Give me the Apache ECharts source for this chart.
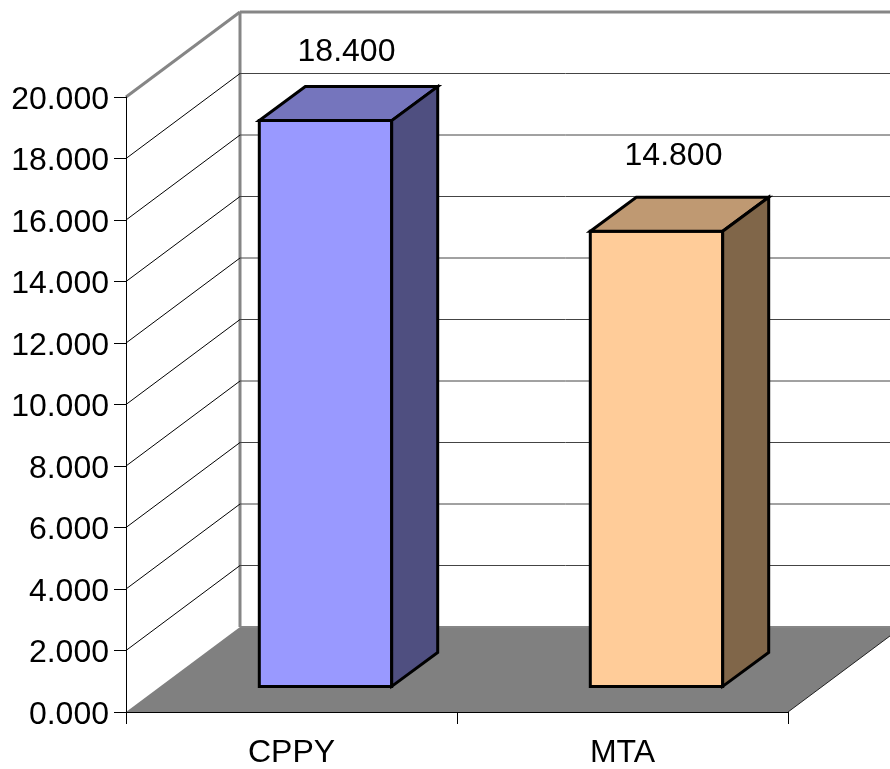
<!DOCTYPE html>
<html>
<head>
<meta charset="utf-8">
<title>CPPY / MTA</title>
<script src="https://cdn.jsdelivr.net/npm/echarts@6/dist/echarts.min.js"></script>
<style>
  html, body { margin: 0; padding: 0; background: #fff; }
  #chart { width: 890px; height: 769px; }
</style>
</head>
<body>
<div id="chart"></div>
<script>
// Chart values
const categories = ['CPPY', 'MTA'];
const seriesValues = [18.4, 14.8];
const gridValues = [2, 4, 6, 8, 10, 12, 14, 16, 18];
const axisMax = 20;
const axisStep = 2;

// One colour triple per bar: front, top and side faces
const faceColors = [
  { front: '#9999FF', top: '#7575BD', side: '#4F4F80' },
  { front: '#FFCC99', top: '#BF9972', side: '#806649' }
];

// Oblique projection used for the box look, in pixels
const WALL_DX = 114, WALL_DY = 85;    // axis plane to back wall
const BAR_IN_DX = 34, BAR_IN_DY = 25.6; // axis plane to bar front
const BAR_DX = 46, BAR_DY = 34;       // bar depth
const BAR_RATIO = 0.4;                // bar width over category width
const LABEL_RISE = [68, 75];          // value label centre above the bar front top
const LABEL_SHIFT = [21, 17];         // value label centre right of the bar front centre

const FONT = '"Liberation Sans", Arial, sans-serif';
const FONT_SIZE = 32;
const WALL_GREY = '#868686';

const floorRenderer = (params, api) => {
  const cs = params.coordSys;
  const y0 = api.coord([0, 0])[1];
  const l = cs.x, r = cs.x + cs.width;
  return {
    type: 'group',
    children: [
      { type: 'polygon',
        shape: { points: [[l, y0], [r, y0], [r + WALL_DX, y0 - WALL_DY], [l + WALL_DX, y0 - WALL_DY]] },
        style: { fill: '#808080', stroke: null } },
      { type: 'line',
        shape: { x1: l + WALL_DX, y1: y0 - WALL_DY, x2: r + WALL_DX, y2: y0 - WALL_DY },
        style: { stroke: WALL_GREY, lineWidth: 2 } },
      { type: 'line',
        shape: { x1: r, y1: y0, x2: r + WALL_DX, y2: y0 - WALL_DY },
        style: { stroke: '#222', lineWidth: 1 } },
      // Wall frame: top edges and back corner
      { type: 'line',
        shape: { x1: l, y1: cs.y, x2: l + WALL_DX, y2: cs.y - WALL_DY },
        style: { stroke: WALL_GREY, lineWidth: 3 } },
      { type: 'line',
        shape: { x1: l + WALL_DX, y1: cs.y - WALL_DY, x2: 900, y2: cs.y - WALL_DY },
        style: { stroke: WALL_GREY, lineWidth: 3 } },
      { type: 'line',
        shape: { x1: l + WALL_DX, y1: cs.y - WALL_DY, x2: l + WALL_DX, y2: y0 - WALL_DY },
        style: { stroke: WALL_GREY, lineWidth: 3 } }
    ]
  };
};

const gridRenderer = (params, api) => {
  const cs = params.coordSys;
  const y = api.coord([0, api.value(1)])[1];
  const l = cs.x, r = cs.x + cs.width;
  return {
    type: 'group',
    children: [
      { type: 'line',
        shape: { x1: l, y1: y, x2: l + WALL_DX, y2: y - WALL_DY },
        style: { stroke: '#000', lineWidth: 1 } },
      { type: 'line',
        shape: { x1: l + WALL_DX, y1: y - WALL_DY, x2: r + WALL_DX, y2: y - WALL_DY },
        style: { stroke: '#444', lineWidth: 1 } }
    ]
  };
};

const barRenderer = (params, api) => {
  const i = api.value(0), v = api.value(1);
  const c = faceColors[i];
  const [cx, yTop] = api.coord([i, v]);
  const [, yBase] = api.coord([i, 0]);
  const half = api.size([1, 0])[0] * BAR_RATIO / 2;
  const x0 = cx + BAR_IN_DX - half, x1 = cx + BAR_IN_DX + half;
  const t = yTop - BAR_IN_DY, b = yBase - BAR_IN_DY;
  const edge = { stroke: '#000', lineWidth: 3, lineJoin: 'miter' };
  return {
    type: 'group',
    children: [
      { type: 'polygon', shape: { points: [[x0, t], [x1, t], [x1, b], [x0, b]] },
        style: Object.assign({ fill: c.front }, edge) },
      { type: 'polygon', shape: { points: [[x0, t], [x1, t], [x1 + BAR_DX, t - BAR_DY], [x0 + BAR_DX, t - BAR_DY]] },
        style: Object.assign({ fill: c.top }, edge) },
      { type: 'polygon', shape: { points: [[x1, t], [x1 + BAR_DX, t - BAR_DY], [x1 + BAR_DX, b - BAR_DY], [x1, b]] },
        style: Object.assign({ fill: c.side }, edge) },
      { type: 'text',
        style: {
          x: cx + BAR_IN_DX + LABEL_SHIFT[i],
          y: t - LABEL_RISE[i],
          text: v.toFixed(3),
          fill: '#000',
          font: FONT_SIZE + 'px ' + FONT,
          align: 'center',
          verticalAlign: 'middle'
        } }
    ]
  };
};

const chart = echarts.init(document.getElementById('chart'), null, { renderer: 'canvas' });
chart.setOption({
  animation: false,
  backgroundColor: '#ffffff',
  grid: { left: 126, top: 97, width: 662, height: 616.5, containLabel: false },
  xAxis: {
    type: 'category',
    data: categories,
    z: 10,
    axisLine: { lineStyle: { color: '#000', width: 1 } },
    axisTick: { show: true, length: 12, lineStyle: { color: '#000', width: 1 } },
    axisLabel: { color: '#000', fontFamily: FONT, fontSize: FONT_SIZE, margin: 25 },
    splitLine: { show: false }
  },
  yAxis: {
    type: 'value',
    min: 0,
    max: axisMax,
    interval: axisStep,
    z: 10,
    axisLine: { show: true, lineStyle: { color: '#000', width: 1 } },
    axisTick: { show: true, length: 12, lineStyle: { color: '#000', width: 1 } },
    axisLabel: {
      color: '#000', fontFamily: FONT, fontSize: FONT_SIZE, margin: 17,
      formatter: (val) => '{v|' + val.toFixed(3) + '}',
      rich: { v: { color: '#000', fontFamily: FONT, fontSize: FONT_SIZE, padding: [6, 0, 0, 0] } }
    },
    splitLine: { show: false }
  },
  series: [
    { type: 'custom', z: 1, silent: true, renderItem: floorRenderer,
      clip: false, encode: { x: 0, y: 1 }, data: [[0, 0]] },
    { type: 'custom', z: 2, silent: true, renderItem: gridRenderer,
      clip: false, encode: { x: 0, y: 1 }, data: gridValues.map((v) => [0, v]) },
    { type: 'custom', z: 3, silent: true, renderItem: barRenderer,
      clip: false, encode: { x: 0, y: 1 },
      data: seriesValues.map((v, i) => [i, v]) }
  ]
});
</script>
</body>
</html>
